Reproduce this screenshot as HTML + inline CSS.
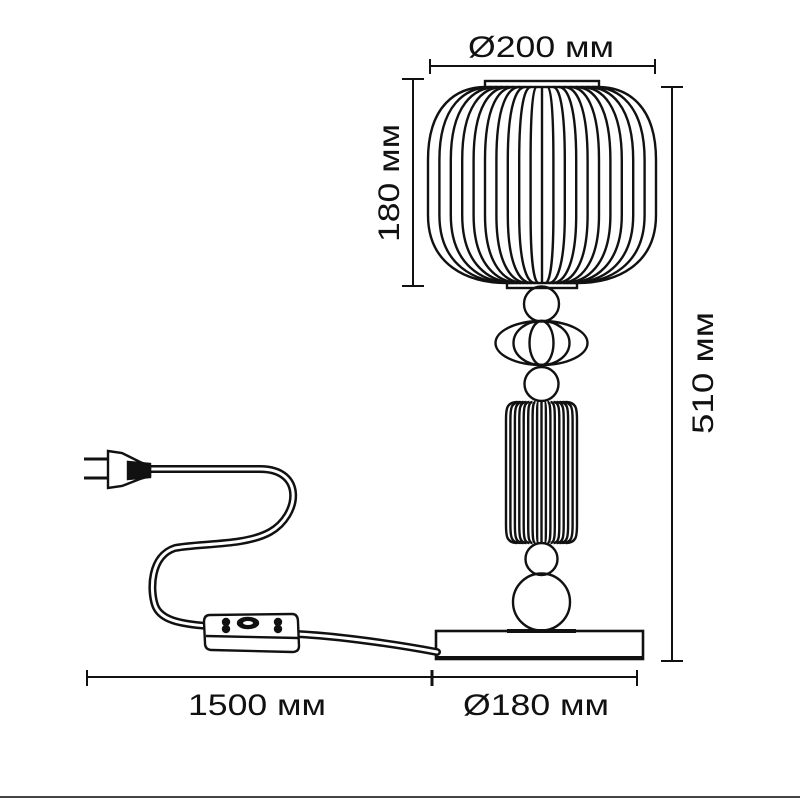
<!DOCTYPE html>
<html><head><meta charset="utf-8"><style>
html,body{margin:0;padding:0;background:#fff;}
svg{display:block}
text{font-family:"Liberation Sans",sans-serif;fill:#111;}
</style></head><body>
<svg width="800" height="800" viewBox="0 0 800 800" xmlns="http://www.w3.org/2000/svg">
<g stroke="#111" fill="none" stroke-width="2">
<line x1="430" y1="66" x2="655" y2="66"/><line x1="430" y1="59" x2="430" y2="74"/><line x1="655" y1="59" x2="655" y2="74"/>
<line x1="413" y1="79" x2="413" y2="286"/><line x1="402" y1="79" x2="424" y2="79"/><line x1="402" y1="286" x2="424" y2="286"/>
<line x1="672" y1="87" x2="672" y2="661"/><line x1="661" y1="87" x2="683" y2="87"/><line x1="661" y1="661" x2="683" y2="661"/>
<line x1="87" y1="677" x2="637" y2="677"/><line x1="87" y1="670" x2="87" y2="686"/><line x1="637" y1="670" x2="637" y2="686"/>
<line x1="432" y1="670" x2="432" y2="686" stroke-width="3"/>
</g>
<g stroke="#111" fill="none" stroke-width="2.4">
<rect x="485" y="81" width="114" height="6" fill="#fff"/>
<rect x="507" y="283" width="70" height="5" fill="#fff"/>
<path d="M486,87 C457,87 428,105 428,160 L428,215 C428,265 467.5,283 507,283"/>
<path d="M491.6,87 C465.5,87 439.4,105 439.4,160 L439.4,215 C439.4,265 475,283 510.5,283"/>
<path d="M497.2,87 C474,87 450.8,105 450.8,160 L450.8,215 C450.8,265 482.4,283 514,283"/>
<path d="M502.8,87 C482.5,87 462.2,105 462.2,160 L462.2,215 C462.2,265 489.9,283 517.5,283"/>
<path d="M508.4,87 C491,87 473.6,105 473.6,160 L473.6,215 C473.6,265 497.3,283 521,283"/>
<path d="M514,87 C499.5,87 485,105 485,160 L485,215 C485,265 504.8,283 524.5,283"/>
<path d="M519.6,87 C508,87 496.4,105 496.4,160 L496.4,215 C496.4,265 512.2,283 528,283"/>
<path d="M525.2,87 C516.5,87 507.8,105 507.8,160 L507.8,215 C507.8,265 519.7,283 531.5,283"/>
<path d="M530.8,87 C525,87 519.2,105 519.2,160 L519.2,215 C519.2,265 527.1,283 535,283"/>
<path d="M536.4,87 C533.5,87 530.6,105 530.6,160 L530.6,215 C530.6,265 534.6,283 538.5,283"/>
<path d="M542,87 L542,283"/>
<path d="M547.6,87 C550.5,87 553.4,105 553.4,160 L553.4,215 C553.4,265 549.4,283 545.5,283"/>
<path d="M553.2,87 C559,87 564.8,105 564.8,160 L564.8,215 C564.8,265 556.9,283 549,283"/>
<path d="M558.8,87 C567.5,87 576.2,105 576.2,160 L576.2,215 C576.2,265 564.3,283 552.5,283"/>
<path d="M564.4,87 C576,87 587.6,105 587.6,160 L587.6,215 C587.6,265 571.8,283 556,283"/>
<path d="M570,87 C584.5,87 599,105 599,160 L599,215 C599,265 579.2,283 559.5,283"/>
<path d="M575.6,87 C593,87 610.4,105 610.4,160 L610.4,215 C610.4,265 586.7,283 563,283"/>
<path d="M581.2,87 C601.5,87 621.8,105 621.8,160 L621.8,215 C621.8,265 594.1,283 566.5,283"/>
<path d="M586.8,87 C610,87 633.2,105 633.2,160 L633.2,215 C633.2,265 601.6,283 570,283"/>
<path d="M592.4,87 C618.5,87 644.6,105 644.6,160 L644.6,215 C644.6,265 609,283 573.5,283"/>
<path d="M598,87 C627,87 656,105 656,160 L656,215 C656,265 616.5,283 577,283"/>
<circle cx="541.5" cy="304" r="17.5"/>
<ellipse cx="541.5" cy="343" rx="46" ry="22"/>
<ellipse cx="541.5" cy="343" rx="28" ry="22"/>
<ellipse cx="541.5" cy="343" rx="12" ry="22"/>
<circle cx="541.5" cy="384" r="17"/>
<path d="M517.5,402 C506,402 506,410 506,420 L506,525 C506,535 506,543 517.5,543"/>
<path d="M520.5,402 C510.4,402 510.4,410 510.4,420 L510.4,525 C510.4,535 510.4,543 520.5,543"/>
<path d="M523.5,402 C514.9,402 514.9,410 514.9,420 L514.9,525 C514.9,535 514.9,543 523.5,543"/>
<path d="M526.5,402 C519.3,402 519.3,410 519.3,420 L519.3,525 C519.3,535 519.3,543 526.5,543"/>
<path d="M529.5,402 C523.7,402 523.7,410 523.7,420 L523.7,525 C523.7,535 523.7,543 529.5,543"/>
<path d="M532.5,402 C528.2,402 528.2,410 528.2,420 L528.2,525 C528.2,535 528.2,543 532.5,543"/>
<path d="M535.5,402 C532.6,402 532.6,410 532.6,420 L532.6,525 C532.6,535 532.6,543 535.5,543"/>
<path d="M538.5,402 C537.1,402 537.1,410 537.1,420 L537.1,525 C537.1,535 537.1,543 538.5,543"/>
<path d="M541.5,402 L541.5,543"/>
<path d="M544.5,402 C545.9,402 545.9,410 545.9,420 L545.9,525 C545.9,535 545.9,543 544.5,543"/>
<path d="M547.5,402 C550.4,402 550.4,410 550.4,420 L550.4,525 C550.4,535 550.4,543 547.5,543"/>
<path d="M550.5,402 C554.8,402 554.8,410 554.8,420 L554.8,525 C554.8,535 554.8,543 550.5,543"/>
<path d="M553.5,402 C559.3,402 559.3,410 559.3,420 L559.3,525 C559.3,535 559.3,543 553.5,543"/>
<path d="M556.5,402 C563.7,402 563.7,410 563.7,420 L563.7,525 C563.7,535 563.7,543 556.5,543"/>
<path d="M559.5,402 C568.1,402 568.1,410 568.1,420 L568.1,525 C568.1,535 568.1,543 559.5,543"/>
<path d="M562.5,402 C572.6,402 572.6,410 572.6,420 L572.6,525 C572.6,535 572.6,543 562.5,543"/>
<path d="M565.5,402 C577,402 577,410 577,420 L577,525 C577,535 577,543 565.5,543"/>
<circle cx="541.5" cy="559" r="16"/>
<circle cx="541.5" cy="602" r="28.5"/>
<rect x="436" y="631" width="207" height="28" stroke-width="2.6"/>
<line x1="507" y1="631" x2="576" y2="631" stroke-width="4"/>
<line x1="436" y1="658" x2="643" y2="658" stroke-width="4"/>
</g>
<g fill="none" stroke-linecap="round" stroke-linejoin="round">
<path d="M150,469 L260,469 C305,469 300,515 270,532 C245,546 200,543 175,548 C150,556 150,590 155,605 C160,620 180,624 208,626 M296,634 C340,636 400,645 437,652" stroke="#111" stroke-width="8"/>
<path d="M150,469 L260,469 C305,469 300,515 270,532 C245,546 200,543 175,548 C150,556 150,590 155,605 C160,620 180,624 208,626 M296,634 C340,636 400,645 437,652" stroke="#fff" stroke-width="3"/>
</g>
<g stroke="#111" stroke-width="2.4" fill="#fff">
<path d="M108,451 L122,453 L140,462 L150,466 L150,476 L140,479 L122,486 L108,488 Z"/>
<path d="M128,462 L150,464 L150,477 L128,479 Z" fill="#111"/>
<line x1="84" y1="459" x2="108" y2="459" stroke-width="3"/>
<line x1="84" y1="478" x2="108" y2="478" stroke-width="3"/>
<path d="M210,615 L292,614 Q298,614 298,622 L299,646 Q299,652 292,652 L212,650 Q205,650 205,643 L204,622 Q204,615 210,615 Z"/>
<line x1="206" y1="636" x2="298" y2="638"/>
<ellipse cx="248" cy="623" rx="10" ry="5" fill="#111"/>
<ellipse cx="248" cy="623" rx="5" ry="2" fill="#fff" stroke="none"/>
<circle cx="226" cy="622" r="3" fill="#111"/>
<circle cx="226" cy="629" r="3" fill="#111"/>
<circle cx="278" cy="622" r="3" fill="#111"/>
<circle cx="278" cy="629" r="3" fill="#111"/>
</g>
<text x="541" y="57" font-size="30" text-anchor="middle" textLength="146" lengthAdjust="spacingAndGlyphs">Ø200 мм</text>
<text transform="translate(399,183) rotate(-90)" font-size="30" text-anchor="middle" textLength="118" lengthAdjust="spacingAndGlyphs">180 мм</text>
<text transform="translate(713,373) rotate(-90)" font-size="30" text-anchor="middle" textLength="122" lengthAdjust="spacingAndGlyphs">510 мм</text>
<text x="257" y="715" font-size="30" text-anchor="middle" textLength="138" lengthAdjust="spacingAndGlyphs">1500 мм</text>
<text x="536" y="715" font-size="30" text-anchor="middle" textLength="146" lengthAdjust="spacingAndGlyphs">Ø180 мм</text>
<line x1="0" y1="797" x2="800" y2="797" stroke="#444" stroke-width="2"/>
</svg>
</body></html>
